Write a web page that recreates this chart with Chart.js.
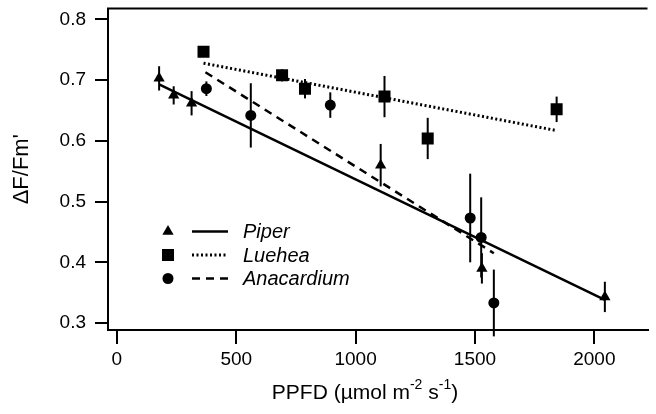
<!DOCTYPE html>
<html>
<head>
<meta charset="utf-8">
<script src="https://cdn.jsdelivr.net/npm/chart.js@4/dist/chart.umd.min.js"></script>
<style>
  html, body { margin: 0; padding: 0; background: #fff; }
  #wrap { width: 656px; height: 414px; }
</style>
</head>
<body>
<div id="wrap"><canvas id="c" width="656" height="414"></canvas></div>
<script>
// ---- data ----
const speciesNames = ["Piper", "Luehea", "Anacardium"];

const piperX = [177, 238, 313, 1105, 1529, 2044];
const piperY = [0.703, 0.675, 0.662, 0.560, 0.390, 0.343];
const piperErr = [0.020, 0.015, 0.020, 0.035, 0.025, 0.025];

const lueheaX = [363, 692, 788, 1121, 1302, 1842];
const lueheaY = [0.747, 0.708, 0.686, 0.673, 0.604, 0.652];
const lueheaErr = [0.008, 0.010, 0.016, 0.034, 0.034, 0.021];

const anacX = [375, 561, 894, 1480, 1526, 1579];
const anacY = [0.686, 0.642, 0.659, 0.473, 0.441, 0.333];
const anacErr = [0.012, 0.053, 0.021, 0.073, 0.066, 0.055];

// regression lines (end points)
const piperFitX = [177, 2044];
const piperFitY = [0.693, 0.338];
const lueheaFitX = [363, 1842];
const lueheaFitY = [0.728, 0.617];
const anacFitX = [371, 1579];
const anacFitY = [0.713, 0.415];

const xTicks = [0, 500, 1000, 1500, 2000];
const yTicks = [0.3, 0.4, 0.5, 0.6, 0.7, 0.8];

const FONT = "'Liberation Sans', Arial, sans-serif";

function pts(xs, ys) { return xs.map((x, i) => ({ x: x, y: ys[i] })); }

const errorSets = [
  { xs: piperX, ys: piperY, es: piperErr },
  { xs: lueheaX, ys: lueheaY, es: lueheaErr },
  { xs: anacX, ys: anacY, es: anacErr }
];

const errorBars = {
  id: 'errorBars',
  beforeDatasetsDraw(chart) {
    const { ctx, scales: { x, y } } = chart;
    ctx.save();
    ctx.strokeStyle = '#000';
    ctx.lineWidth = 2;
    errorSets.forEach(s => {
      s.xs.forEach((xv, i) => {
        const px = x.getPixelForValue(xv);
        ctx.beginPath();
        ctx.moveTo(px, y.getPixelForValue(s.ys[i] + s.es[i]));
        ctx.lineTo(px, y.getPixelForValue(s.ys[i] - s.es[i]));
        ctx.stroke();
      });
    });
    ctx.restore();
  }
};

function drawMarker(ctx, kind, cx, cy) {
  ctx.fillStyle = '#000';
  ctx.beginPath();
  if (kind === 'triangle') {
    const r = 6.5;
    ctx.moveTo(cx, cy - r);
    ctx.lineTo(cx + r * 0.866, cy + r * 0.5);
    ctx.lineTo(cx - r * 0.866, cy + r * 0.5);
    ctx.closePath();
  } else if (kind === 'rect') {
    ctx.rect(cx - 6, cy - 6, 12, 12);
  } else {
    ctx.arc(cx, cy, 5.5, 0, Math.PI * 2);
  }
  ctx.fill();
}

const decorations = {
  id: 'decorations',
  afterDraw(chart) {
    const { ctx, chartArea: a } = chart;
    ctx.save();
    // top frame line
    ctx.strokeStyle = '#000';
    ctx.lineWidth = 2;
    ctx.beginPath();
    ctx.moveTo(a.left - 1, a.top);
    ctx.lineTo(a.right, a.top);
    ctx.stroke();

    // legend
    const kinds = ['triangle', 'rect', 'circle'];
    const dashes = [[], [2, 2.5], [8, 6]];
    ctx.font = 'italic 20px ' + FONT;
    ctx.textBaseline = 'middle';
    ctx.textAlign = 'left';
    speciesNames.forEach((name, i) => {
      const cy = a.top + 223 + i * 23.5;
      drawMarker(ctx, kinds[i], a.left + 60, cy);
      ctx.setLineDash(dashes[i]);
      ctx.lineWidth = i === 1 ? 3 : 2.5;
      ctx.beginPath();
      ctx.moveTo(a.left + 84, cy);
      ctx.lineTo(a.left + 120, cy);
      ctx.stroke();
      ctx.setLineDash([]);
      ctx.fillStyle = '#000';
      ctx.fillText(name, a.left + 135, cy + 1);
    });

    // y title
    ctx.font = '22px ' + FONT;
    ctx.textAlign = 'center';
    ctx.textBaseline = 'middle';
    ctx.save();
    ctx.translate(22, (a.top + a.bottom) / 2);
    ctx.rotate(-Math.PI / 2);
    ctx.fillText("\u0394F/Fm'", 0, 0);
    ctx.restore();

    // x title with superscripts
    const parts = [
      { t: 'PPFD (\u00B5mol m', sup: false },
      { t: '-2', sup: true },
      { t: ' s', sup: false },
      { t: '-1', sup: true },
      { t: ')', sup: false }
    ];
    const big = '21px ' + FONT, small = '14px ' + FONT;
    let total = 0;
    parts.forEach(p => { ctx.font = p.sup ? small : big; p.w = ctx.measureText(p.t).width; total += p.w; });
    let px = 365 - total / 2;
    const baseY = 399;
    ctx.textAlign = 'left';
    ctx.textBaseline = 'alphabetic';
    parts.forEach(p => {
      ctx.font = p.sup ? small : big;
      ctx.fillText(p.t, px, p.sup ? baseY - 10 : baseY);
      px += p.w;
    });
    ctx.restore();
  }
};

const ds = (label, data, style, radius) => ({
  label, data, type: 'scatter',
  pointStyle: style, pointRadius: radius, pointHoverRadius: radius,
  backgroundColor: '#000', borderColor: '#000', borderWidth: 0, showLine: false
});
const fit = (label, data, dash, w) => ({
  label, data, type: 'line', showLine: true, pointRadius: 0,
  borderColor: '#000', borderWidth: w, borderDash: dash, fill: false, tension: 0
});

new Chart(document.getElementById('c'), {
  type: 'scatter',
  data: {
    datasets: [
      fit('Piper fit', pts(piperFitX, piperFitY), [], 2.5),
      fit('Luehea fit', pts(lueheaFitX, lueheaFitY), [2, 2.5], 3),
      fit('Anacardium fit', pts(anacFitX, anacFitY), [8, 6], 2.5),
      ds('Piper', pts(piperX, piperY), 'triangle', 6.5),
      ds('Luehea', pts(lueheaX, lueheaY), 'rect', 8.5),
      ds('Anacardium', pts(anacX, anacY), 'circle', 5.5)
    ]
  },
  options: {
    responsive: false,
    animation: false,
    devicePixelRatio: 1,
    layout: { padding: { top: 8, left: 0, right: 0, bottom: 0 } },
    plugins: { legend: { display: false }, tooltip: { enabled: false } },
    scales: {
      x: {
        type: 'linear', min: -37.1, max: 2222.6,
        afterBuildTicks: s => { s.ticks = xTicks.map(v => ({ value: v })); },
        afterFit: s => { s.height = 84; s.paddingLeft = 0; s.paddingRight = 0; },
        border: { display: true, color: '#000', width: 2 },
        grid: { drawOnChartArea: false, drawTicks: true, tickLength: 14, color: '#000', lineWidth: 2 },
        ticks: { color: '#000', font: { family: FONT, size: 19 }, padding: 4, maxRotation: 0,
                 callback: v => String(v) }
      },
      y: {
        type: 'linear', min: 0.2885, max: 0.8181,
        afterBuildTicks: s => { s.ticks = yTicks.map(v => ({ value: v })); },
        afterFit: s => { s.width = 108; s.paddingTop = 0; s.paddingBottom = 0; },
        border: { display: true, color: '#000', width: 2 },
        grid: { drawOnChartArea: false, drawTicks: true, tickLength: 13, color: '#000', lineWidth: 2 },
        ticks: { color: '#000', font: { family: FONT, size: 19 }, padding: 9,
                 callback: v => Number(v).toFixed(1) }
      }
    }
  },
  plugins: [errorBars, decorations]
});
</script>
</body>
</html>
